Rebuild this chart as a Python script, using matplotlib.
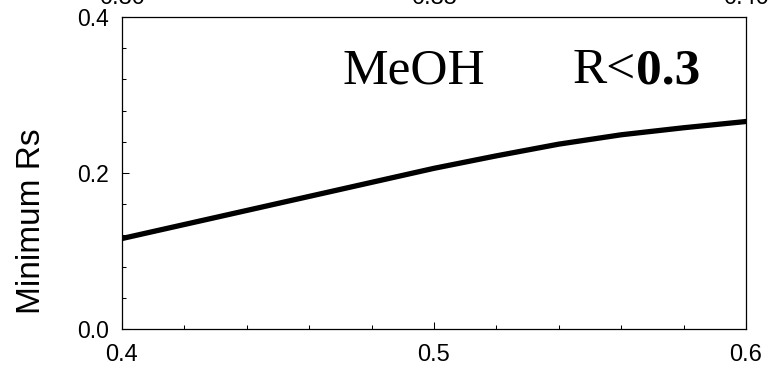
import matplotlib
matplotlib.use("Agg")
import matplotlib.pyplot as plt
from matplotlib.ticker import MultipleLocator, FormatStrFormatter
from matplotlib.transforms import blended_transform_factory

# data
x = [0.40, 0.42, 0.44, 0.46, 0.48, 0.50, 0.52, 0.54, 0.56, 0.58, 0.60]
min_rs = [0.116, 0.134, 0.152, 0.170, 0.188, 0.206, 0.222, 0.237, 0.249, 0.258, 0.266]
top_labels = ["0.30", "0.35", "0.40"]

plt.rcParams['font.family'] = ['Liberation Sans', 'DejaVu Sans']

fig = plt.figure(figsize=(7.83, 3.67), dpi=100)
ax = fig.add_axes([0.1558, 0.1035, 0.7969, 0.8502])

ax.plot(x, min_rs, color='black', lw=3.8, solid_capstyle='round')

ax.set_xlim(0.4, 0.6)
ax.set_ylim(0.0, 0.4)
ax.xaxis.set_major_locator(MultipleLocator(0.1))
ax.xaxis.set_minor_locator(MultipleLocator(0.02))
ax.yaxis.set_major_locator(MultipleLocator(0.2))
ax.yaxis.set_minor_locator(MultipleLocator(0.04))
ax.xaxis.set_major_formatter(FormatStrFormatter('%.1f'))
ax.yaxis.set_major_formatter(FormatStrFormatter('%.1f'))
ax.tick_params(which='both', direction='in', width=0.75)
ax.tick_params(which='major', length=5)
ax.tick_params(which='minor', length=3)
ax.tick_params(axis='x', pad=10.5, labelsize=17)
ax.tick_params(axis='y', pad=9.5, labelsize=16.5)
for s in ax.spines.values():
    s.set_linewidth(0.9)

ax.set_ylabel('Minimum Rs', fontsize=24)
ax.yaxis.set_label_coords(-0.12, 0.346)

ax.text(0.3536, 0.788, 'MeOH', transform=ax.transAxes, fontsize=37,
        family='Liberation Serif', ha='left', va='baseline')
r_txt = ax.text(0.7216, 0.788, 'R<', transform=ax.transAxes, fontsize=37,
                family='Liberation Serif', ha='left', va='baseline')
ax.annotate('0.3', xy=(1, 0), xycoords=r_txt, fontsize=37,
            family='Liberation Serif', fontweight='bold', ha='left', va='bottom')

# tick labels of the panel above, cut off at the top edge
trans = blended_transform_factory(ax.transAxes, fig.transFigure)
for lbl, fx in zip(top_labels, [0.0, 0.5, 1.0]):
    ax.text(fx, 0.989, lbl, transform=trans, fontsize=17, ha='center', va='baseline')

fig.savefig("out.png", dpi=100)
